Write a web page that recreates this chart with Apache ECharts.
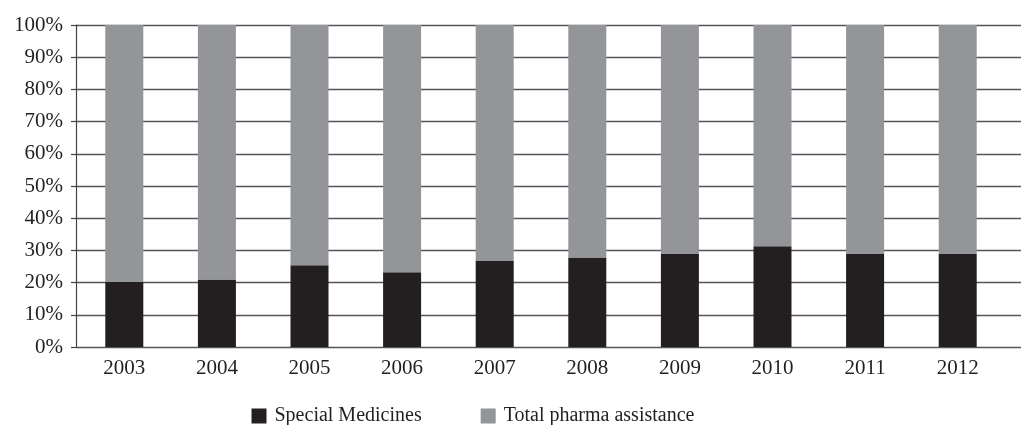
<!DOCTYPE html>
<html><head><meta charset="utf-8">
<script src="https://cdn.jsdelivr.net/npm/echarts@6/dist/echarts.min.js"></script>
<style>html,body{margin:0;padding:0;background:#fff}#c{width:1021px;height:425px}</style>
</head><body><div id="c"></div>
<script>
const years = ['2003','2004','2005','2006','2007','2008','2009','2010','2011','2012'];
const specialMedicines = [20.3, 21.0, 25.4, 23.2, 26.9, 27.8, 28.9, 31.3, 28.9, 28.9];
const totalPharma = specialMedicines.map(v => +(100 - v).toFixed(1));
const yTicks = [0,10,20,30,40,50,60,70,80,90,100];
const font = 'Liberation Serif';
const ink = '#231f20';
const chart = echarts.init(document.getElementById('c'));
chart.setOption({
  animation: false,
  grid: [
    {left: 78, right: 17, top: 25, bottom: 78, containLabel: false},
    {left: 76, right: 0, top: 25, bottom: 78, containLabel: false}
  ],
  legend: {
    left: 251.5, top: 406, padding: 0, itemWidth: 15, itemHeight: 15, itemGap: 59,
    icon: 'rect',
    textStyle: {fontFamily: font, fontSize: 20, lineHeight: 19, color: ink, padding: [0,0,0,3]},
    data: ['Special Medicines', 'Total pharma assistance']
  },
  xAxis: [
    {type: 'category', data: years, gridIndex: 0,
     axisLine: {show: false}, axisTick: {show: false},
     axisLabel: {fontFamily: font, fontSize: 21, color: ink, margin: 11}},
    {type: 'value', gridIndex: 1, show: false, min: 0, max: 1}
  ],
  yAxis: [
    {type: 'value', gridIndex: 0, min: yTicks[0], max: yTicks[yTicks.length-1], interval: 10, show: false,
     splitLine: {show: false}},
    {type: 'value', gridIndex: 1, min: yTicks[0], max: yTicks[yTicks.length-1], interval: 10,
     axisLine: {show: true, lineStyle: {color: '#444', width: 1.2}},
     axisTick: {show: true, length: 5, lineStyle: {color: '#444', width: 1.2}},
     axisLabel: {fontFamily: font, fontSize: 21, color: ink, margin: 13, formatter: v => v + '%'},
     splitLine: {lineStyle: {color: '#555', width: 1.3}}}
  ],
  series: [
    {name: 'Special Medicines', type: 'bar', stack: 's', data: specialMedicines, barWidth: 38,
     xAxisIndex: 0, yAxisIndex: 0, itemStyle: {color: ink}},
    {name: 'Total pharma assistance', type: 'bar', stack: 's', data: totalPharma, barWidth: 38,
     xAxisIndex: 0, yAxisIndex: 0, itemStyle: {color: '#939598'}}
  ]
});
</script></body></html>
